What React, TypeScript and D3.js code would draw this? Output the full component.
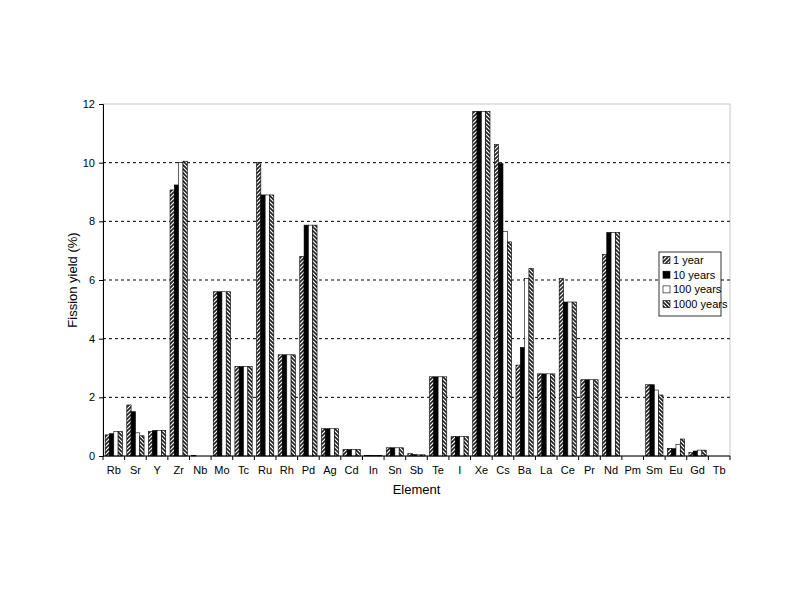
import { useEffect, useRef } from "react"
import * as d3 from "d3"

const elements = ["Rb", "Sr", "Y", "Zr", "Nb", "Mo", "Tc", "Ru", "Rh", "Pd", "Ag", "Cd", "In", "Sn", "Sb", "Te", "I", "Xe", "Cs", "Ba", "La", "Ce", "Pr", "Nd", "Pm", "Sm", "Eu", "Gd", "Tb"]

const seriesNames = ["1 year", "10 years", "100 years", "1000 years"]

const year1 = [0.72, 1.74, 0.83, 9.07, 0.02, 5.6, 3.05, 10.0, 3.45, 6.8, 0.93, 0.22, 0.02, 0.28, 0.08, 2.7, 0.66, 11.75, 10.62, 3.1, 2.8, 6.05, 2.6, 6.87, 0, 2.43, 0.26, 0.12, 0]
const year10 = [0.76, 1.51, 0.87, 9.24, 0, 5.6, 3.05, 8.9, 3.45, 7.87, 0.93, 0.22, 0.02, 0.28, 0.05, 2.7, 0.66, 11.75, 9.97, 3.7, 2.8, 5.25, 2.6, 7.62, 0, 2.43, 0.25, 0.17, 0]
const year100 = [0.83, 0.79, 0.87, 10.0, 0, 5.6, 3.05, 8.9, 3.45, 7.87, 0.93, 0.22, 0.02, 0.28, 0.04, 2.7, 0.66, 11.75, 7.65, 6.05, 2.8, 5.25, 2.6, 7.62, 0, 2.25, 0.4, 0.2, 0]
const year1000 = [0.83, 0.69, 0.87, 10.05, 0, 5.6, 3.05, 8.9, 3.45, 7.87, 0.93, 0.22, 0.02, 0.28, 0.04, 2.7, 0.66, 11.75, 7.3, 6.39, 2.8, 5.25, 2.6, 7.62, 0, 2.08, 0.58, 0.2, 0]

const yTicks = [0, 2, 4, 6, 8, 10, 12]

const fills = ["url(#hatchA)", "#000", "#fff", "url(#hatchB)"]

export default function App() {
  const svgRef = useRef<SVGSVGElement>(null)

  useEffect(() => {
    if (!svgRef.current) return
    const svg = d3.select(svgRef.current)
    svg.selectAll("*").remove()

    const left = 103
    const right = 730
    const top = 104
    const bottom = 456

    const defs = svg.append("defs")
    // hatch patterns for 1 year and 1000 years
    const hA = defs.append("pattern").attr("id", "hatchA").attr("patternUnits", "userSpaceOnUse")
      .attr("width", 4).attr("height", 4)
    hA.append("rect").attr("width", 4).attr("height", 4).attr("fill", "#222")
    hA.append("path").attr("d", "M0,4 L4,0 M-1,1 L1,-1 M3,5 L5,3").attr("stroke", "#fff").attr("stroke-width", 1.2)
    const hB = defs.append("pattern").attr("id", "hatchB").attr("patternUnits", "userSpaceOnUse")
      .attr("width", 4).attr("height", 4)
    hB.append("rect").attr("width", 4).attr("height", 4).attr("fill", "#222")
    hB.append("path").attr("d", "M0,0 L4,4 M-1,3 L1,5 M3,-1 L5,1").attr("stroke", "#fff").attr("stroke-width", 1.2)

    svg.append("rect").attr("width", 800).attr("height", 600).attr("fill", "#fff")

    const x = d3.scaleBand().domain(elements).range([left, right])
    const y = d3.scaleLinear().domain([0, 12]).range([bottom, top])
    const inner = d3.scaleBand().domain(seriesNames).range([0, x.bandwidth() * 0.8]).padding(0)
    const offset = x.bandwidth() * 0.1

    // plot border
    svg.append("rect").attr("x", left).attr("y", top).attr("width", right - left).attr("height", bottom - top)
      .attr("fill", "none").attr("stroke", "#c8c8c8").attr("stroke-width", 1)

    // grid
    yTicks.filter((t) => t > 0 && t < 12).forEach((t) => {
      svg.append("line").attr("x1", left).attr("x2", right).attr("y1", y(t)).attr("y2", y(t))
        .attr("stroke", "#000").attr("stroke-width", 1).attr("stroke-dasharray", "3,3")
    })

    const series = [year1, year10, year100, year1000]
    series.forEach((vals, si) => {
      svg.append("g").selectAll("rect").data(vals).enter().append("rect")
        .attr("x", (_d, i) => (x(elements[i]) || 0) + offset + (inner(seriesNames[si]) || 0))
        .attr("y", (d) => y(d))
        .attr("width", inner.bandwidth())
        .attr("height", (d) => bottom - y(d))
        .attr("fill", fills[si])
        .attr("stroke", (d) => (d > 0 ? "#000" : "none"))
        .attr("stroke-width", 0.6)
    })

    // axes
    const yAxis = svg.append("g").attr("transform", `translate(${left},0)`)
      .call(d3.axisLeft(y).tickValues(yTicks).tickSize(4).tickPadding(4))
    yAxis.selectAll("text").attr("font-family", "Liberation Sans, Arial, sans-serif").attr("font-size", 11).attr("fill", "#000")
    yAxis.select(".domain").attr("stroke", "#000")

    const xAxisG = svg.append("g").attr("transform", `translate(0,${bottom})`)
    xAxisG.append("line").attr("x1", left).attr("x2", right).attr("stroke", "#000")
    elements.forEach((e, i) => {
      const x0 = (x(e) || 0)
      xAxisG.append("line").attr("x1", x0 + x.bandwidth()).attr("x2", x0 + x.bandwidth()).attr("y1", 0).attr("y2", 4).attr("stroke", "#000")
      if (i === 0) xAxisG.append("line").attr("x1", x0).attr("x2", x0).attr("y1", 0).attr("y2", 4).attr("stroke", "#000")
      xAxisG.append("text").attr("x", x0 + x.bandwidth() / 2).attr("y", 18).attr("text-anchor", "middle")
        .attr("font-family", "Liberation Sans, Arial, sans-serif").attr("font-size", 11).text(e)
    })

    svg.append("text").attr("x", (left + right) / 2).attr("y", 494).attr("text-anchor", "middle")
      .attr("font-family", "Liberation Sans, Arial, sans-serif").attr("font-size", 13).text("Element")
    svg.append("text").attr("transform", `translate(77,${(top + bottom) / 2}) rotate(-90)`).attr("text-anchor", "middle")
      .attr("font-family", "Liberation Sans, Arial, sans-serif").attr("font-size", 13).text("Fission yield (%)")

    // legend
    const lg = svg.append("g").attr("transform", "translate(659,252)")
    lg.append("rect").attr("width", 62).attr("height", 64).attr("fill", "#fff").attr("stroke", "#000").attr("stroke-width", 0.8)
    seriesNames.forEach((s, i) => {
      const yy = 8 + i * 14.7
      lg.append("rect").attr("x", 4).attr("y", yy - 3.5).attr("width", 7).attr("height", 7)
        .attr("fill", fills[i]).attr("stroke", "#000").attr("stroke-width", 0.6)
      lg.append("text").attr("x", 14).attr("y", yy + 4).attr("font-family", "Liberation Sans, Arial, sans-serif")
        .attr("font-size", 11).text(s)
    })
  }, [])

  return <svg ref={svgRef} width={800} height={600} style={{ display: "block", margin: -8 }} />
}
